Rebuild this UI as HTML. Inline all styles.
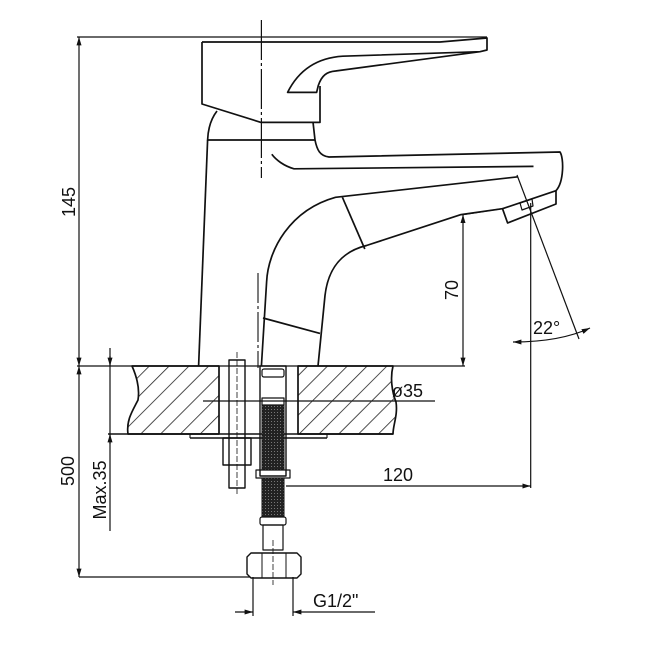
<!DOCTYPE html>
<html><head><meta charset="utf-8"><style>
html,body{margin:0;padding:0;background:#fff;}
svg{display:block}
text{font-family:"Liberation Sans",sans-serif;font-size:18px;fill:#111}
</style></head><body>
<svg width="650" height="650" viewBox="0 0 650 650" xmlns="http://www.w3.org/2000/svg">
<defs>
<marker id="a" viewBox="0 0 10 10" refX="10" refY="5" markerWidth="7" markerHeight="7" orient="auto-start-reverse"><path d="M0,2 L10,5 L0,8 z" fill="#111"/></marker>
<pattern id="h" width="14" height="14" patternUnits="userSpaceOnUse" patternTransform="rotate(45)"><line x1="0" y1="0" x2="0" y2="14" stroke="#222" stroke-width="1.6"/></pattern>
<pattern id="br" width="3" height="3" patternUnits="userSpaceOnUse"><rect width="3" height="3" fill="#222"/><rect x="1" y="1" width="1" height="1" fill="#777"/></pattern>
</defs>
<g fill="none" stroke="#111" stroke-width="1.7" stroke-linejoin="round">
<line x1="77" y1="37" x2="487" y2="37" stroke-width="1.3"/>
<line x1="79" y1="37" x2="79" y2="366" stroke-width="1.2" marker-start="url(#a)" marker-end="url(#a)"/>
<line x1="79" y1="366" x2="79" y2="577" stroke-width="1.2" marker-start="url(#a)" marker-end="url(#a)"/>
<line x1="77" y1="366" x2="465" y2="366" stroke-width="1.3"/>
<line x1="79" y1="577" x2="250" y2="577" stroke-width="1.3"/>
<line x1="110" y1="348" x2="110" y2="531" stroke-width="1.2"/>
<path d="M110 356 L110 366" marker-end="url(#a)" stroke-width="1.2"/>
<path d="M110 444 L110 434" marker-end="url(#a)" stroke-width="1.2"/>
<path d="M202 42 L440 42 L487 38 L487 50 L480 51.7 L335.5 71 C327 71.7 321.7 75.2 318.3 85.5 L316.6 92.4 L287.6 92.4 C297.9 71.7 315 57.9 342.8 56.2 L480 51.7"/>
<path d="M202 42 L202 104 L261 122.4 L320 122.4 L320 86"/>
<path d="M217 111 C210 120 208 130 207.6 140 L315 140 L313 122"/>
<path d="M207.6 140 L198.6 366"/>
<path d="M315 140 C317 150 320 156 329 157 L560 152 C564 158 564 182 556 190.7"/>
<path d="M271.8 154.3 C276 160 284 166 294 168.8 L533.5 166.4"/>
<path d="M261.4 366 L266.6 282 C268 250 290 210 335.5 197.3 L518 176.8"/>
<path d="M318 366 L325 295.5 C328 270 340 252 366.5 245.5 L461 214.6 L502.5 208.7"/>
<path d="M502.5 208.7 L556 190.7 L556 204 L507.6 223 Z"/>
<path d="M520 203 L532 199 L533 206 L522 210 Z" stroke-width="1.2"/>
<line x1="342.4" y1="197.3" x2="364.8" y2="249"/>
<line x1="263" y1="318" x2="320" y2="333.4"/>
<line x1="261.4" y1="20" x2="261.4" y2="178" stroke-width="1.2" stroke-dasharray="40 3 3 3"/>
<line x1="258" y1="273" x2="258" y2="368" stroke-width="1.1" stroke-dasharray="30 3 3 3"/>
<line x1="463" y1="214.6" x2="502" y2="208.7" stroke-width="1.2"/>
<line x1="463" y1="214.6" x2="463" y2="366" stroke-width="1.2" marker-start="url(#a)" marker-end="url(#a)"/>
<line x1="530.7" y1="203" x2="530.7" y2="488" stroke-width="1.2"/>
<line x1="517" y1="175" x2="579" y2="339" stroke-width="1.2"/>
<path d="M513 342 Q560 342 590 328" stroke-width="1.2" marker-start="url(#a)" marker-end="url(#a)"/>
<line x1="286" y1="486" x2="530.7" y2="486" stroke-width="1.2" marker-end="url(#a)"/>
<line x1="203" y1="401" x2="435" y2="401" stroke-width="1.2"/>
<path d="M132 366 L219 366 L219 434 L128 434 C126 420 133 410 138 400 C140 388 136 375 132 366 Z" fill="url(#h)"/>
<path d="M298 366 L393 366 C390 378 392 392 396 402 C398 415 393 425 393 434 L298 434 Z" fill="url(#h)"/>
<line x1="108" y1="434" x2="393" y2="434" stroke-width="1.4"/>
<line x1="190" y1="438" x2="327" y2="438" stroke-width="1.4"/>
<line x1="190" y1="434" x2="190" y2="438" stroke-width="1.1"/>
<line x1="327" y1="434" x2="327" y2="438" stroke-width="1.1"/>
<rect x="229" y="360" width="16" height="128" stroke-width="1.4"/>
<line x1="237" y1="352" x2="237" y2="494" stroke-width="0.8" stroke-dasharray="6 2"/>
<rect x="223" y="438" width="28" height="27" stroke-width="1.4"/>
<rect x="260" y="366" width="26" height="110" stroke-width="1.4"/>
<rect x="262" y="369" width="22" height="8" rx="2" stroke-width="1.2"/>
<rect x="262" y="398" width="22" height="7" stroke-width="1.2"/>
<rect x="262" y="405" width="22" height="65" fill="url(#br)" stroke-width="1"/>
<rect x="256" y="470" width="34" height="8" stroke-width="1.2"/>
<rect x="262" y="478" width="22" height="39" fill="url(#br)" stroke-width="1"/>
<rect x="260" y="517" width="26" height="8" rx="2" stroke-width="1.2"/>
<rect x="263" y="525" width="20" height="25" stroke-width="1.2"/>
<path d="M247 557 L251 553 L297 553 L301 557 L301 574 L297 578 L251 578 L247 574 Z" stroke-width="1.4"/>
<line x1="262" y1="553" x2="262" y2="578" stroke-width="1"/>
<line x1="286" y1="553" x2="286" y2="578" stroke-width="1"/>
<line x1="273" y1="540" x2="273" y2="585" stroke-width="0.8" stroke-dasharray="6 2"/>
<line x1="253" y1="577" x2="253" y2="616" stroke-width="1.2"/>
<line x1="293" y1="577" x2="293" y2="616" stroke-width="1.2"/>
<line x1="235" y1="612" x2="253" y2="612" stroke-width="1.2" marker-end="url(#a)"/>
<line x1="375" y1="612" x2="293" y2="612" stroke-width="1.2" marker-end="url(#a)"/>
</g>
<text transform="translate(75,202) rotate(-90)" text-anchor="middle">145</text>
<text transform="translate(74,471) rotate(-90)" text-anchor="middle">500</text>
<text transform="translate(106,490) rotate(-90)" text-anchor="middle">Max.35</text>
<text transform="translate(458,290) rotate(-90)" text-anchor="middle">70</text>
<text x="533" y="334">22°</text>
<text x="392" y="397">ø35</text>
<text x="383" y="481">120</text>
<text x="313" y="607">G1/2"</text>
</svg>
</body></html>
